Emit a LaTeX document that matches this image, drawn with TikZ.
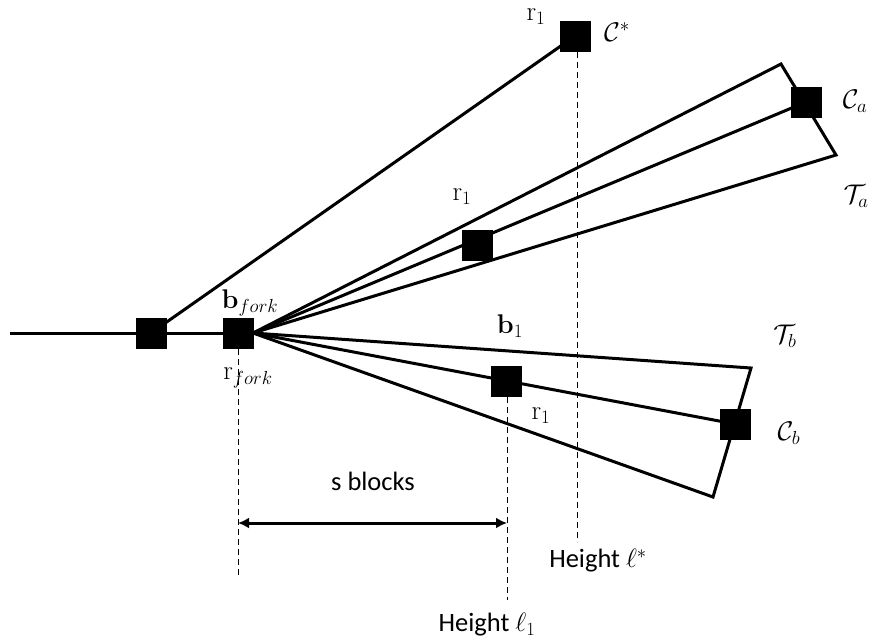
\RequirePackage{fix-cm}
\documentclass[tikz,border=0pt]{standalone}
\usepackage[no-math]{fontspec}
\newfontfamily\calib{Carlito}
\usetikzlibrary{arrows.meta}
\tikzset{
  blk/.style={fill=black,draw=none,minimum size=31pt,inner sep=0pt,outer sep=0pt},
  thk/.style={line width=3pt},
  dsh/.style={line width=1pt,dash pattern=on 6pt off 4pt},
  lbl/.style={inner sep=0pt,font=\fontsize{27}{32}\selectfont},
  txt/.style={inner sep=0pt,font=\calib\fontsize{26.5}{31}\selectfont},
}
\begin{document}
\begin{tikzpicture}[x=1pt,y=-1pt]
\useasboundingbox (0,0) rectangle (872,641);
% key points
\coordinate (start) at (10,333);
\coordinate (fk) at (253,333);
\coordinate (ta1) at (781,64);
\coordinate (ta2) at (836,155);
\coordinate (tb1) at (751,368);
\coordinate (tb2) at (713,497);
% lines
\draw[thk] (start) -- (238,333);
\draw[thk] (151,333) -- (575,36);
\draw[thk,line join=miter] (fk) -- (ta1) -- (ta2) -- cycle;
\draw[thk] (fk) -- (806,102);
\draw[thk,line join=miter] (fk) -- (tb1) -- (tb2) -- cycle;
\draw[thk] (fk) -- (735,424);
% dashed lines
\coordinate (d1a) at (238,349);
\coordinate (d1b) at (238,578);
\coordinate (d2a) at (507,397);
\coordinate (d2b) at (507,600);
\coordinate (d3a) at (577,52);
\coordinate (d3b) at (577,542);
\draw[dsh] (d1a) -- (d1b);
\draw[dsh] (d2a) -- (d2b);
\draw[dsh] (d3a) -- (d3b);
% arrow
\coordinate (arL) at (238,523);
\coordinate (arR) at (507,523);
\draw[thk,{Latex[length=11pt,width=11pt]}-{Latex[length=11pt,width=11pt]}] (arL) -- (arR);
% squares
\node[blk] (s0) at (151,333) {};
\node[blk] (fork) at (238,333) {};
\node[blk] (cstar) at (575,36) {};
\node[blk] (ca) at (806,102) {};
\node[blk] (ra) at (477,245) {};
\node[blk] (b1) at (506,381) {};
\node[blk] (cb) at (735,424) {};
% labels
\node[lbl] (l1) at (536,17) {$\mathrm{r}_1$};
\node[lbl] (l2) at (617,32) {$\mathcal{C}^*$};
\node[lbl] (l3) at (855,101) {$\mathcal{C}_a$};
\node[lbl] (l4) at (856,196) {$\mathcal{T}_a$};
\node[lbl] (l5) at (462,197) {$\mathrm{r}_1$};
\node[lbl] (l6) at (250,303) {$\mathbf{b}_{fork}$};
\node[lbl] (l7) at (248,378) {$\mathrm{r}_{fork}$};
\node[lbl] (l8) at (510,326) {$\mathbf{b}_1$};
\node[lbl] (l9) at (785,336) {$\mathcal{T}_b$};
\node[lbl] (l10) at (541,416) {$\mathrm{r}_1$};
\node[lbl] (l11) at (789,433) {$\mathcal{C}_b$};
\node[txt] (l12) at (373,481) {s blocks};
\node[txt] (l13) at (598,561) {Height $\ell^*$};
\node[txt] (l14) at (487,625) {Height $\ell_1$};
\end{tikzpicture}
\end{document}
